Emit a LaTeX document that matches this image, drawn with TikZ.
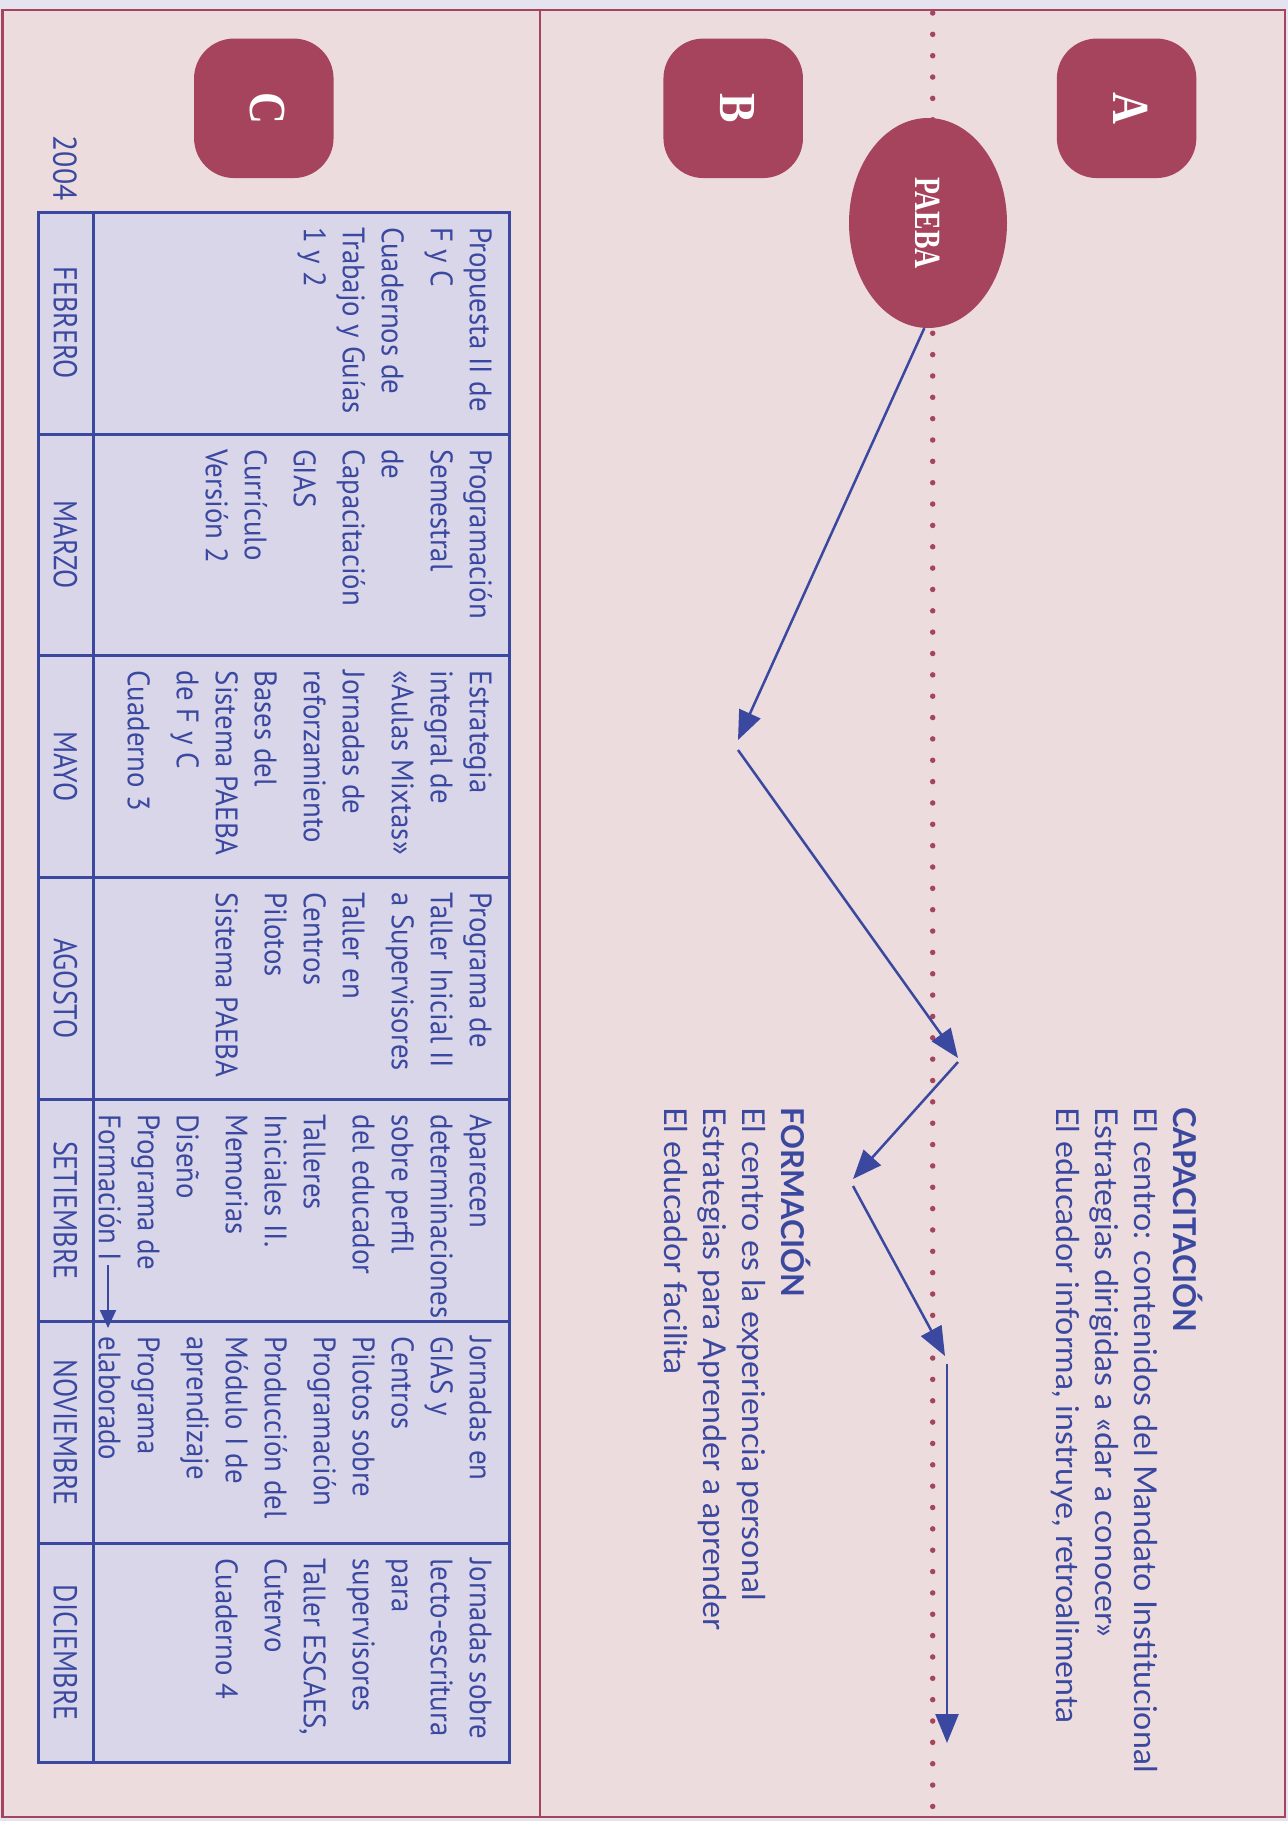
\documentclass[tikz,border=0pt]{standalone}
\usepackage{fontspec}
\setmainfont{Lato}
\newfontfamily\sidefont[FakeStretch=1.02]{Lato}
\newfontfamily\titlefont[FakeStretch=0.98]{Lato}
\newfontfamily\cellfont[FakeStretch=0.93]{PT Sans}
\newfontfamily\monthfont[FakeStretch=0.85]{PT Sans}
\newfontfamily\yearfont[FakeStretch=0.9]{PT Sans}
\newfontfamily\letterfont[FakeStretch=0.85]{Liberation Serif}
\newfontfamily\ovalfont[FakeStretch=0.75]{Liberation Serif}
\usetikzlibrary{arrows.meta,shapes.geometric}

\definecolor{paper}{HTML}{E5E3EF}
\definecolor{blush}{HTML}{EDDCDD}
\definecolor{rose}{HTML}{A6435D}
\definecolor{ink}{HTML}{3A48A0}
\definecolor{cellbg}{HTML}{D9D6EA}

\newcommand\cellstrut{\rule{0pt}{26pt}}
\newcommand\sidestrut{\rule{0pt}{28pt}}

\tikzset{
  flow/.style={draw=ink, line width=2.5pt, -{Triangle[length=29pt,width=23pt]}},
  tagbox/.style={fill=rose, rounded corners=40pt, minimum size=139.5pt, inner sep=0pt,
    rotate=-90, text=white, font=\letterfont\bfseries\fontsize{52}{52}\selectfont},
  cell/.style={rotate=-90, anchor=north west, inner sep=0pt, align=left, text=ink,
    font=\cellfont\fontsize{31}{39}\selectfont},
  month/.style={rotate=-90, inner sep=0pt, text=ink, font=\monthfont\fontsize{33}{33}\selectfont},
  side/.style={rotate=-90, anchor=north west, inner sep=0pt, align=left, text=ink,
    font=\sidefont\fontsize{31.5}{39}\selectfont},
  tabline/.style={draw=ink, line width=3pt},
}

\begin{document}
\begin{tikzpicture}[x=1pt, y=-1pt]
\useasboundingbox (0,0) rectangle (1288,1821);
\fill[paper] (0,0) rectangle (1288,1821);

% frame and column divider
\draw[rose, line width=2.5pt, fill=blush] (2.5,10) rectangle (1285,1817);
\coordinate (divTop) at (540,10);
\coordinate (divBot) at (540,1817);
\draw[rose, line width=2.2pt] (divTop) -- (divBot);

% dotted time line
\coordinate (dotTop) at (932.7,13);
\coordinate (dotBot) at (932.7,1815);
\draw[rose, line width=5.5pt, line cap=round, dash pattern=on 0pt off 21.35pt] (dotTop) -- (dotBot);

% letter tags
\node[tagbox] (tagA) at (1126.6,108.3) {\raisebox{4pt}[\height][\depth]{A}};
\node[tagbox] (tagB) at (733.2,108.3) {\raisebox{4pt}[\height][\depth]{B}};
\node[tagbox] (tagC) at (263.8,108.3) {\raisebox{4pt}[\height][\depth]{C}};

% PAEBA oval
\node[ellipse, fill=rose, minimum width=210pt, minimum height=158pt, inner sep=0pt,
  rotate=-90, text=white, font=\ovalfont\bfseries\fontsize{37}{37}\selectfont]
  (paeba) at (928,223) {PAEBA};

% zig-zag path
\coordinate (t1) at (738,740);
\coordinate (s2) at (738,750);
\coordinate (t2) at (958,1058);
\coordinate (s3) at (958,1062);
\coordinate (t3) at (853,1179);
\coordinate (s4) at (853,1186);
\coordinate (t4) at (945,1356);
\coordinate (s5) at (947,1364);
\coordinate (t5) at (947,1743);
\draw[flow] (paeba.358) -- (t1);
\draw[flow] (s2) -- (t2);
\draw[flow] (s3) -- (t3);
\draw[flow] (s4) -- (t4);
\draw[flow] (s5) -- (t5);

% text blocks
\node[side] (capac) at (1203,1107) {\sidestrut{\titlefont\bfseries CAPACITACIÓN}\\
  El centro: contenidos del Mandato Institucional\\
  Estrategias dirigidas a «dar a conocer»\\
  El educador informa, instruye, retroalimenta};
\node[side] (forma) at (810.6,1107) {\sidestrut{\titlefont\bfseries FORMACIÓN}\\
  El centro es la experiencia personal\\
  Estrategias para Aprender a aprender\\
  El educador facilita};

% table
\draw[tabline, fill=cellbg] (38,212) rectangle (509,1762);
\draw[tabline] (93,212) -- (93,1762);
\foreach \yy in {434,655.5,877,1099.3,1321.7,1543.3}
  \draw[tabline] (38,\yy) -- (509,\yy);

\node[month, font=\yearfont\fontsize{33}{33}\selectfont] (year) at (65,168) {2004};
\node[month] (feb) at (65.5,323) {FEBRERO};
\node[month] (mar) at (65.5,544.8) {MARZO};
\node[month] (may) at (65.5,766.3) {MAYO};
\node[month] (ago) at (65.5,988.2) {AGOSTO};
\node[month] (set) at (65.5,1210.5) {SETIEMBRE};
\node[month] (nov) at (65.5,1432.5) {NOVIEMBRE};
\node[month] (dic) at (65.5,1652.7) {DICIEMBRE};

\node[cell] (cfeb) at (496,227) {\cellstrut Propuesta II de\\ F y C\\[10pt]
  Cuadernos de\\ Trabajo y Guías\\ 1 y 2};
\node[cell] (cmar) at (496,449) {\cellstrut Programación\\ Semestral\\[10pt]
  de\\ Capacitación\\[10pt] GIAS\\[10pt] Currículo\\ Versión 2};
\node[cell] (cmay) at (496,670.5) {\cellstrut Estrategia\\ integral de\\ «Aulas Mixtas»\\[10pt]
  Jornadas de\\ reforzamiento\\[10pt] Bases del\\ Sistema PAEBA\\ de F y C\\[10pt] Cuaderno 3};
\node[cell] (cago) at (496,892) {\cellstrut Programa de\\ Taller Inicial II\\ a Supervisores\\[10pt]
  Taller en\\ Centros\\ Pilotos\\[10pt] Sistema PAEBA};
\node[cell] (cset) at (496,1114.3) {\cellstrut Aparecen\\ determinaciones\\ sobre perfil\\ del educador\\[10pt]
  Talleres\\ Iniciales II.\\ Memorias\\[10pt] Diseño\\ Programa de\\ Formación I};
\node[cell] (cnov) at (496,1336.7) {\cellstrut Jornadas en\\ GIAS y\\ Centros\\ Pilotos sobre\\ Programación\\[10pt]
  Producción del\\ Módulo I de\\ aprendizaje\\[10pt] Programa\\ elaborado};
\node[cell] (cdic) at (496,1558.3) {\cellstrut Jornadas sobre\\ lecto-escritura\\ para\\ supervisores\\[10pt]
  Taller ESCAES,\\ Cutervo\\[10pt] Cuaderno 4};

% carry-over arrow inside the table
\coordinate (fa) at (108,1265);
\coordinate (fb) at (108,1328);
\draw[ink, line width=2pt, -{Triangle[length=18pt,width=16pt]}] (fa) -- (fb);
\end{tikzpicture}
\end{document}
